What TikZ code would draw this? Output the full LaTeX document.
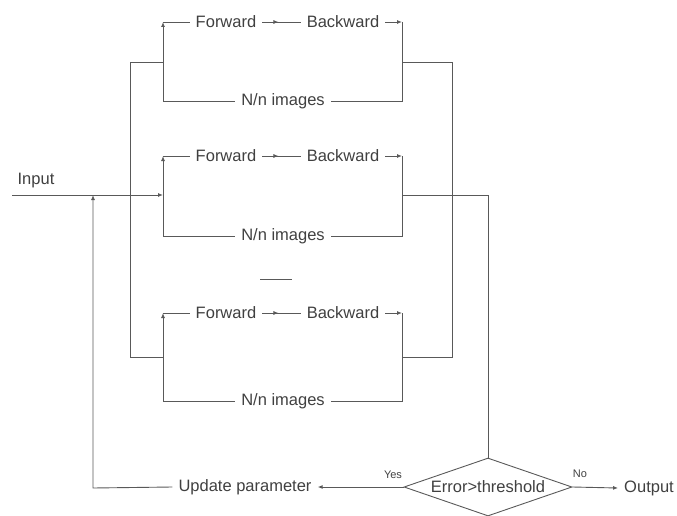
\documentclass[tikz,border=0pt]{standalone}
\usepackage{fontspec}
\setmainfont{Liberation Sans}
\usetikzlibrary{arrows.meta,shapes.geometric,decorations.markings}

\tikzset{
	lbl/.style={font=\fontsize{16.5}{19}\selectfont, text=black!75, inner xsep=6pt, inner ysep=2pt},
	small/.style={font=\fontsize{11}{13}\selectfont, text=black!75, inner sep=1pt},
	wire/.style={line width=0.9pt, draw=black!65},
	tip/.style={wire, -{Latex[length=5pt,width=4pt]}},
	midtip/.style={wire, postaction={decorate},
		decoration={markings, mark=at position 0.42 with {\arrow{Latex[length=5pt,width=4pt]}}}},
	decision/.style={diamond, draw=black!65, line width=0.9pt, aspect=2.8, inner sep=0pt,
		minimum width=168pt, minimum height=58pt,
		font=\fontsize{16.5}{19}\selectfont, text=black!75}
}

\begin{document}
\begin{tikzpicture}[x=1pt,y=-1pt]
		%%%%% START %%%%%
		\useasboundingbox (0,0) rectangle (677,516);
		
		% the three parallel branches
		\foreach \i/\yf/\yn/\yj in {1/22/101/62, 2/156/236/195, 3/313/401/357}{
			\node[lbl] (fwd\i) at (226,\yf) {Forward};
			\node[lbl] (bwd\i) at (343,\yf) {Backward};
			\node[lbl] (img\i) at (283,\yn) {N/n images};
			\coordinate (lt\i) at (163,\yf);
			\coordinate (lb\i) at (163,\yn);
			\coordinate (lj\i) at (163,\yj);
			\coordinate (rt\i) at (402,\yf);
			\coordinate (rb\i) at (402,\yn);
			\coordinate (rj\i) at (402,\yj);
			\draw[tip] (lb\i) -- (lt\i);
			\draw[wire] (lt\i) -- (fwd\i);
			\draw[wire] (lb\i) -- (img\i);
			\draw[midtip] (fwd\i) -- (bwd\i);
			\draw[tip] (bwd\i) -- (rt\i);
			\draw[wire] (rt\i) -- (rb\i) -- (img\i);
		}
		
		% dash between branch 2 and 3
		\coordinate (dots1) at (260,279);
		\coordinate (dots2) at (292,279);
		\draw[wire] (dots1) -- (dots2);
		
		% buses
		\coordinate (lbus1) at (130,62);
		\coordinate (lbus3) at (130,357);
		\draw[wire] (lj1) -- (lbus1) -- (lbus3) -- (lj3);
		\coordinate (rbus1) at (452,62);
		\coordinate (rbus3) at (452,357);
		\draw[wire] (rj1) -- (rbus1) -- (rbus3) -- (rj3);
		
		% input
		\node[lbl] (inp) at (36,181) {Input};
		\coordinate (in0) at (12,195);
		\draw[tip] (in0) -- (lj2);
		
		% decision and feedback
		\node[decision] (dec) at (488,487) {Error>threshold};
		\node[lbl] (upd) at (245,487) {Update parameter};
		\node[lbl] (out) at (649,488) {Output};
		\node[small] (yes) at (393,475) {Yes};
		\node[small] (no) at (580,474) {No};
		\draw[wire] (rj2) -| (dec.north);
		\draw[tip] (dec.west) -- (upd.east);
		\draw[tip] (dec.east) -- (out.west);
		\coordinate (fb) at (93,488);
		\coordinate (fbtop) at (93,195);
		\draw[tip] (upd.west) -- (fb) -- (fbtop);
		
		%%%%% END %%%%%
	\end{tikzpicture}
\end{document}
